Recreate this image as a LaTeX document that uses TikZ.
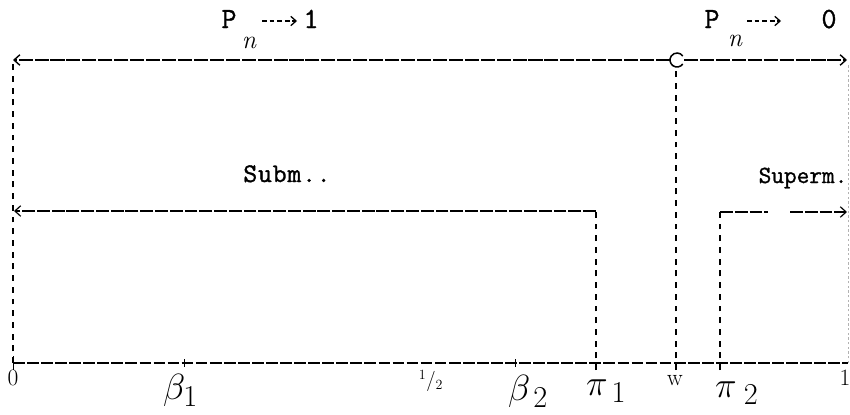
\documentclass[tikz,border=0pt]{standalone}
\usepackage{graphicx}
\usepackage{fontspec}
\usetikzlibrary{arrows.meta}
\newfontfamily\typefont[FakeBold=1.2]{Latin Modern Mono}
\newfontfamily\subtt[FakeBold=1.2,LetterSpace=3]{Latin Modern Mono}
\newfontfamily\suptt[FakeBold=1.2]{Latin Modern Mono}
\newcommand\biglab[1]{\scalebox{1.25}{$#1$}}
\begin{document}
\begin{tikzpicture}[x=0.03cm,y=-0.03cm,
  tt/.style={anchor=base,inner sep=0pt,font=\fontsize{25}{27}\selectfont\typefont},
  nn/.style={anchor=base,inner sep=0pt,font=\fontsize{22}{24}\selectfont\itshape},
  lbla/.style={anchor=base,inner sep=0pt,font=\fontsize{23}{25}\selectfont\subtt},
  lblb/.style={anchor=base,inner sep=0pt,font=\fontsize{21}{23}\selectfont\suptt},
  mlab/.style={anchor=base west,inner sep=0pt,font=\fontsize{24.88}{27}\selectfont},
  slab/.style={anchor=base,inner sep=0pt,font=\fontsize{20}{22}\selectfont},
  topline/.style={line width=1.2pt, dash pattern=on 12pt off 1.6pt},
  vline/.style={line width=1.1pt, dash pattern=on 5pt off 5pt},
  axis/.style={line width=1pt, dash pattern=on 10pt off 2pt},
  mid/.style={line width=1pt, dash pattern=on 11pt off 1.6pt},
  lblarrow/.style={line width=1.1pt, dash pattern=on 4pt off 2.5pt, -{Straight Barb[length=4.5pt,width=8pt]}},
  tip/.style={-{Straight Barb[length=5pt,width=9pt]}},
  tick/.style={line width=0.8pt}]
\useasboundingbox (0,0) rectangle (850,414);
% coordinates
\coordinate (TL) at (13,60);
\coordinate (C) at (677,60);
\coordinate (CR) at (684,60);
\coordinate (CL) at (670,60);
\coordinate (TR) at (847,60);
\coordinate (BL) at (13,363);
\coordinate (BR) at (848,363);
\coordinate (TRv) at (848,64);
\coordinate (P1t) at (596,211);
\coordinate (P1b) at (596,370);
\coordinate (SL) at (14,211);
\coordinate (Wt) at (676,67);
\coordinate (Wb) at (676,370);
\coordinate (P2t) at (720,212);
\coordinate (P2b) at (720,370);
\coordinate (Sg1) at (768,212);
\coordinate (Sg2) at (790,212);
\coordinate (SR) at (847,212);
% top line
\draw[topline,tip] (CL) -- (TL);
\draw[topline,tip] (CR) -- (TR);
\draw[line width=1.3pt] (C) ++(35:7) arc[start angle=35,end angle=325,radius=7];
% verticals
\draw[vline] (BL) -- ([yshift=-0.1cm]TL);
\draw[vline] (Wb) -- (Wt);
\draw[gray!60,line width=0.6pt,dash pattern=on 2pt off 2pt] (BR) -- (TRv);
% axis
\draw[axis] (BL) -- (BR);
\draw[tick] (13,356) -- (13,370);
\draw[tick] (184,359) -- (184,367);
\draw[tick] (515,359) -- (515,367);
% subm
\draw[vline] (P1b) -- (P1t);
\draw[mid,tip] (P1t) -- (SL);
% superm
\draw[vline] (P2b) -- (P2t);
\draw[mid] (P2t) -- (Sg1);
\draw[mid,tip] (Sg2) -- (SR);
% labels top
\node[tt] (Pa) at (229,28) {P};
\node[nn] (na) at (249,48) {n};
\coordinate (aa1) at (262,21);
\coordinate (aa2) at (297,21);
\draw[lblarrow] (aa1) -- (aa2);
\node[tt] (one) at (311,28) {1};
\node[tt] (Pb) at (712,28) {P};
\node[nn] (nb) at (735,46) {n};
\coordinate (ab1) at (747,21);
\coordinate (ab2) at (781,21);
\draw[lblarrow] (ab1) -- (ab2);
\node[tt] (zero) at (829,28) {0};
% middle labels
\node[lbla] (subm) at (287,182) {Subm..};
\node[lblb] (superm) at (803,183) {Superm.};
% axis labels
\node[slab] (l0) at (13,385) {0};
\node[mlab] (lb1) at (163,399) {\biglab{\beta_1}};
\node[anchor=north,inner sep=0pt,font=\fontsize{17.28}{19}\selectfont] (lh) at (431,370) {$^1/_2$};
\node[mlab] (lb2) at (508,400) {\biglab{\beta_{\,2}}};
\node[mlab] (lp1) at (586,395) {\biglab{\pi_{\,1}}};
\node[slab] (lw) at (675,385) {w};
\node[mlab] (lp2) at (715,397) {\biglab{\pi_{\;2}}};
\node[slab] (l1) at (845,385) {1};
\end{tikzpicture}
\end{document}
